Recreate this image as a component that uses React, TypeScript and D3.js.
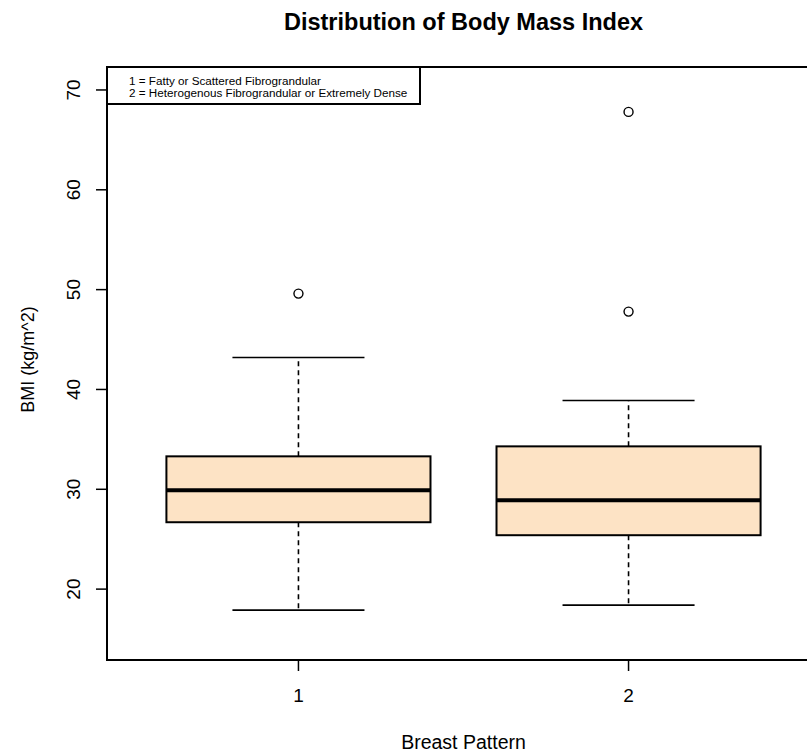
import React, { useRef, useEffect } from "react";
import * as d3 from "d3";

const categories = ["1", "2"];
const whiskerLow = [17.9, 18.4];
const q1 = [26.7, 25.4];
const median = [29.9, 28.9];
const q3 = [33.3, 34.3];
const whiskerHigh = [43.2, 38.9];
const outliers = [[49.6], [47.8, 67.8]];
const yTicks = [20, 30, 40, 50, 60, 70];
const legendLines = [
  "1 = Fatty or Scattered Fibrograndular",
  "2 = Heterogenous Fibrograndular or Extremely Dense",
];

const App = () => {
  const ref = useRef<SVGSVGElement>(null);
  const width = 807;
  const height = 753;
  const left = 107, top = 67, right = 820, bottom = 660;

  useEffect(() => {
    const svg = d3.select(ref.current);
    svg.selectAll("*").remove();
    const font = "Liberation Sans, Arial, sans-serif";

    const x = d3.scaleLinear().domain([0.42, 2.58]).range([left, right]);
    const y = d3.scaleLinear().domain([12.9, 72.3]).range([bottom, top]);
    const boxHalf = 0.4;
    const capHalf = 0.2;

    // title
    svg.append("text")
      .attr("x", (left + right) / 2).attr("y", 30)
      .attr("text-anchor", "middle")
      .attr("font-family", font).attr("font-weight", "bold").attr("font-size", 23.5)
      .text("Distribution of Body Mass Index");

    const g = svg.append("g");

    categories.forEach((c, i) => {
      const cx = x(i + 1);
      // whiskers
      g.append("line")
        .attr("x1", cx).attr("x2", cx).attr("y1", y(q3[i])).attr("y2", y(whiskerHigh[i]))
        .attr("stroke", "#000").attr("stroke-width", 1.6).attr("stroke-dasharray", "5,4");
      g.append("line")
        .attr("x1", cx).attr("x2", cx).attr("y1", y(q1[i])).attr("y2", y(whiskerLow[i]))
        .attr("stroke", "#000").attr("stroke-width", 1.6).attr("stroke-dasharray", "5,4");
      [whiskerHigh[i], whiskerLow[i]].forEach((v) => {
        g.append("line")
          .attr("x1", x(i + 1 - capHalf)).attr("x2", x(i + 1 + capHalf))
          .attr("y1", y(v)).attr("y2", y(v))
          .attr("stroke", "#000").attr("stroke-width", 1.6);
      });
      // box
      g.append("rect")
        .attr("x", x(i + 1 - boxHalf)).attr("y", y(q3[i]))
        .attr("width", x(i + 1 + boxHalf) - x(i + 1 - boxHalf))
        .attr("height", y(q1[i]) - y(q3[i]))
        .attr("fill", "#fde3c5").attr("stroke", "#000").attr("stroke-width", 2);
      g.append("line")
        .attr("x1", x(i + 1 - boxHalf)).attr("x2", x(i + 1 + boxHalf))
        .attr("y1", y(median[i])).attr("y2", y(median[i]))
        .attr("stroke", "#000").attr("stroke-width", 4);
      // outliers
      outliers[i].forEach((v) => {
        g.append("circle")
          .attr("cx", cx).attr("cy", y(v)).attr("r", 4.5)
          .attr("fill", "none").attr("stroke", "#000").attr("stroke-width", 1.4);
      });
    });

    // plot frame
    svg.append("rect")
      .attr("x", left).attr("y", top).attr("width", right - left).attr("height", bottom - top)
      .attr("fill", "none").attr("stroke", "#000").attr("stroke-width", 2);

    // y axis
    yTicks.forEach((t) => {
      svg.append("line")
        .attr("x1", left - 11).attr("x2", left).attr("y1", y(t)).attr("y2", y(t))
        .attr("stroke", "#000").attr("stroke-width", 1.5);
      svg.append("text")
        .attr("transform", `translate(${80},${y(t)}) rotate(-90)`)
        .attr("text-anchor", "middle")
        .attr("font-family", font).attr("font-size", 19)
        .text(t);
    });
    svg.append("text")
      .attr("transform", `translate(${34},${(top + bottom) / 2 - 4}) rotate(-90)`)
      .attr("text-anchor", "middle")
      .attr("font-family", font).attr("font-size", 18)
      .text("BMI (kg/m^2)");

    // x axis
    categories.forEach((c, i) => {
      svg.append("line")
        .attr("x1", x(i + 1)).attr("x2", x(i + 1)).attr("y1", bottom).attr("y2", bottom + 11)
        .attr("stroke", "#000").attr("stroke-width", 1.5);
      svg.append("text")
        .attr("x", x(i + 1)).attr("y", 702)
        .attr("text-anchor", "middle")
        .attr("font-family", font).attr("font-size", 19)
        .text(c);
    });
    svg.append("text")
      .attr("x", (left + right) / 2).attr("y", 749)
      .attr("text-anchor", "middle")
      .attr("font-family", font).attr("font-size", 19.5)
      .text("Breast Pattern");

    // legend
    const lg = svg.append("g");
    lg.append("rect")
      .attr("x", left).attr("y", top).attr("width", 313).attr("height", 37)
      .attr("fill", "#fff").attr("stroke", "#000").attr("stroke-width", 2);
    legendLines.forEach((l, i) => {
      lg.append("text")
        .attr("x", left + 22).attr("y", top + 18 + i * 12)
        .attr("font-family", font).attr("font-size", 11.7)
        .text(l);
    });
  }, []);

  return (
    <svg ref={ref} width={width} height={height}
      style={{ position: "absolute", left: 0, top: 0, background: "#fff" }} />
  );
};

export default App;
